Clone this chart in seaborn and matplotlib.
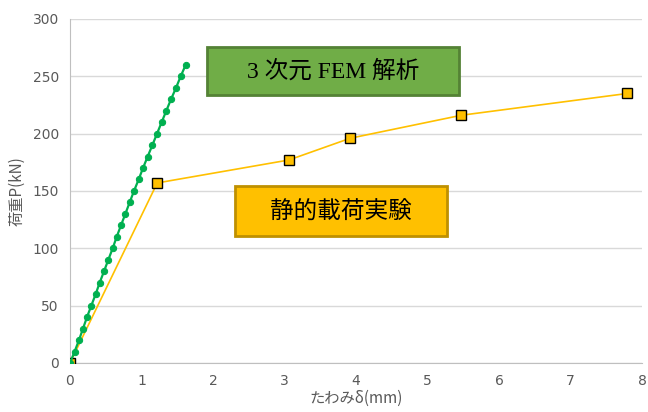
import pandas as pd
import numpy as np
import matplotlib.pyplot as plt
import seaborn as sns
from matplotlib.patches import Rectangle

# FEM analysis curve (load every 10 kN)
fem_disp = [0, 0.065, 0.126, 0.182, 0.238, 0.298, 0.359, 0.415, 0.476, 0.536,
            0.597, 0.653, 0.713, 0.774, 0.834, 0.895, 0.960, 1.021, 1.086,
            1.152, 1.217, 1.282, 1.347, 1.413, 1.483, 1.548, 1.618]
fem_load = [0, 10, 20, 30, 40, 50, 60, 70, 80, 90, 100, 110, 120, 130, 140,
            150, 160, 170, 180, 190, 200, 210, 220, 230, 240, 250, 260]

# static loading test
test_disp = [0, 1.22, 3.06, 3.92, 5.47, 7.79]
test_load = [0, 157, 177, 196, 216, 235]

sns.set_style("white")
plt.rcParams['font.family'] = ['DejaVu Sans', 'Noto Sans CJK JP']

df_fem = pd.DataFrame({'disp': fem_disp, 'load': fem_load})
df_test = pd.DataFrame({'disp': test_disp, 'load': test_load})

fig = plt.figure(figsize=(6.48, 4.12), dpi=100)
ax = fig.add_axes([0.108, 0.119, 0.883, 0.835])

gray = '#595959'
sns.lineplot(data=df_test, x='disp', y='load', sort=False, color='#FFC000',
             linewidth=1.2, marker='s', markersize=6.5, markerfacecolor='#FFC000',
             markeredgecolor='black', markeredgewidth=1.0, ax=ax, zorder=3)
sns.lineplot(data=df_fem, x='disp', y='load', sort=False, color='#00B050',
             linewidth=1.6, marker='o', markersize=4.5, markerfacecolor='#00B050',
             markeredgecolor='#00B050', ax=ax, zorder=4)

ax.set_xlim(0, 8)
ax.set_ylim(0, 300)
ax.set_xticks(range(0, 9))
ax.set_yticks(range(0, 301, 50))
ax.grid(axis='y', color='#d9d9d9', linewidth=1)
ax.set_axisbelow(True)
for s in ['top', 'right']:
    ax.spines[s].set_visible(False)
for s in ['left', 'bottom']:
    ax.spines[s].set_color('#bfbfbf')
ax.tick_params(axis='both', length=0, labelsize=10, labelcolor=gray, pad=8)
ax.set_xlabel('たわみδ(mm)', fontsize=11, color=gray, labelpad=1,
              family=['Noto Sans CJK JP', 'DejaVu Sans'])
ax.set_ylabel('荷重P(kN)', fontsize=11, color=gray, labelpad=5,
              family=['Noto Sans CJK JP', 'DejaVu Sans'])

# label boxes
fig.patches.append(Rectangle((0.319, 0.769), 0.390, 0.117, transform=fig.transFigure,
                             facecolor='#70AD47', edgecolor='#548235', linewidth=2, zorder=5))
fig.text(0.514, 0.826, '3 次元 FEM 解析', ha='center', va='center', fontsize=17,
         family=['Liberation Serif', 'Noto Sans CJK JP'], color='black', zorder=6)

fig.patches.append(Rectangle((0.363, 0.427), 0.327, 0.121, transform=fig.transFigure,
                             facecolor='#FFC000', edgecolor='#BF9000', linewidth=2, zorder=5))
fig.text(0.5265, 0.486, '静的載荷実験', ha='center', va='center', fontsize=17,
         family=['Noto Sans CJK JP', 'DejaVu Sans'], color='black', zorder=6)

fig.savefig('out.png', dpi=100)
